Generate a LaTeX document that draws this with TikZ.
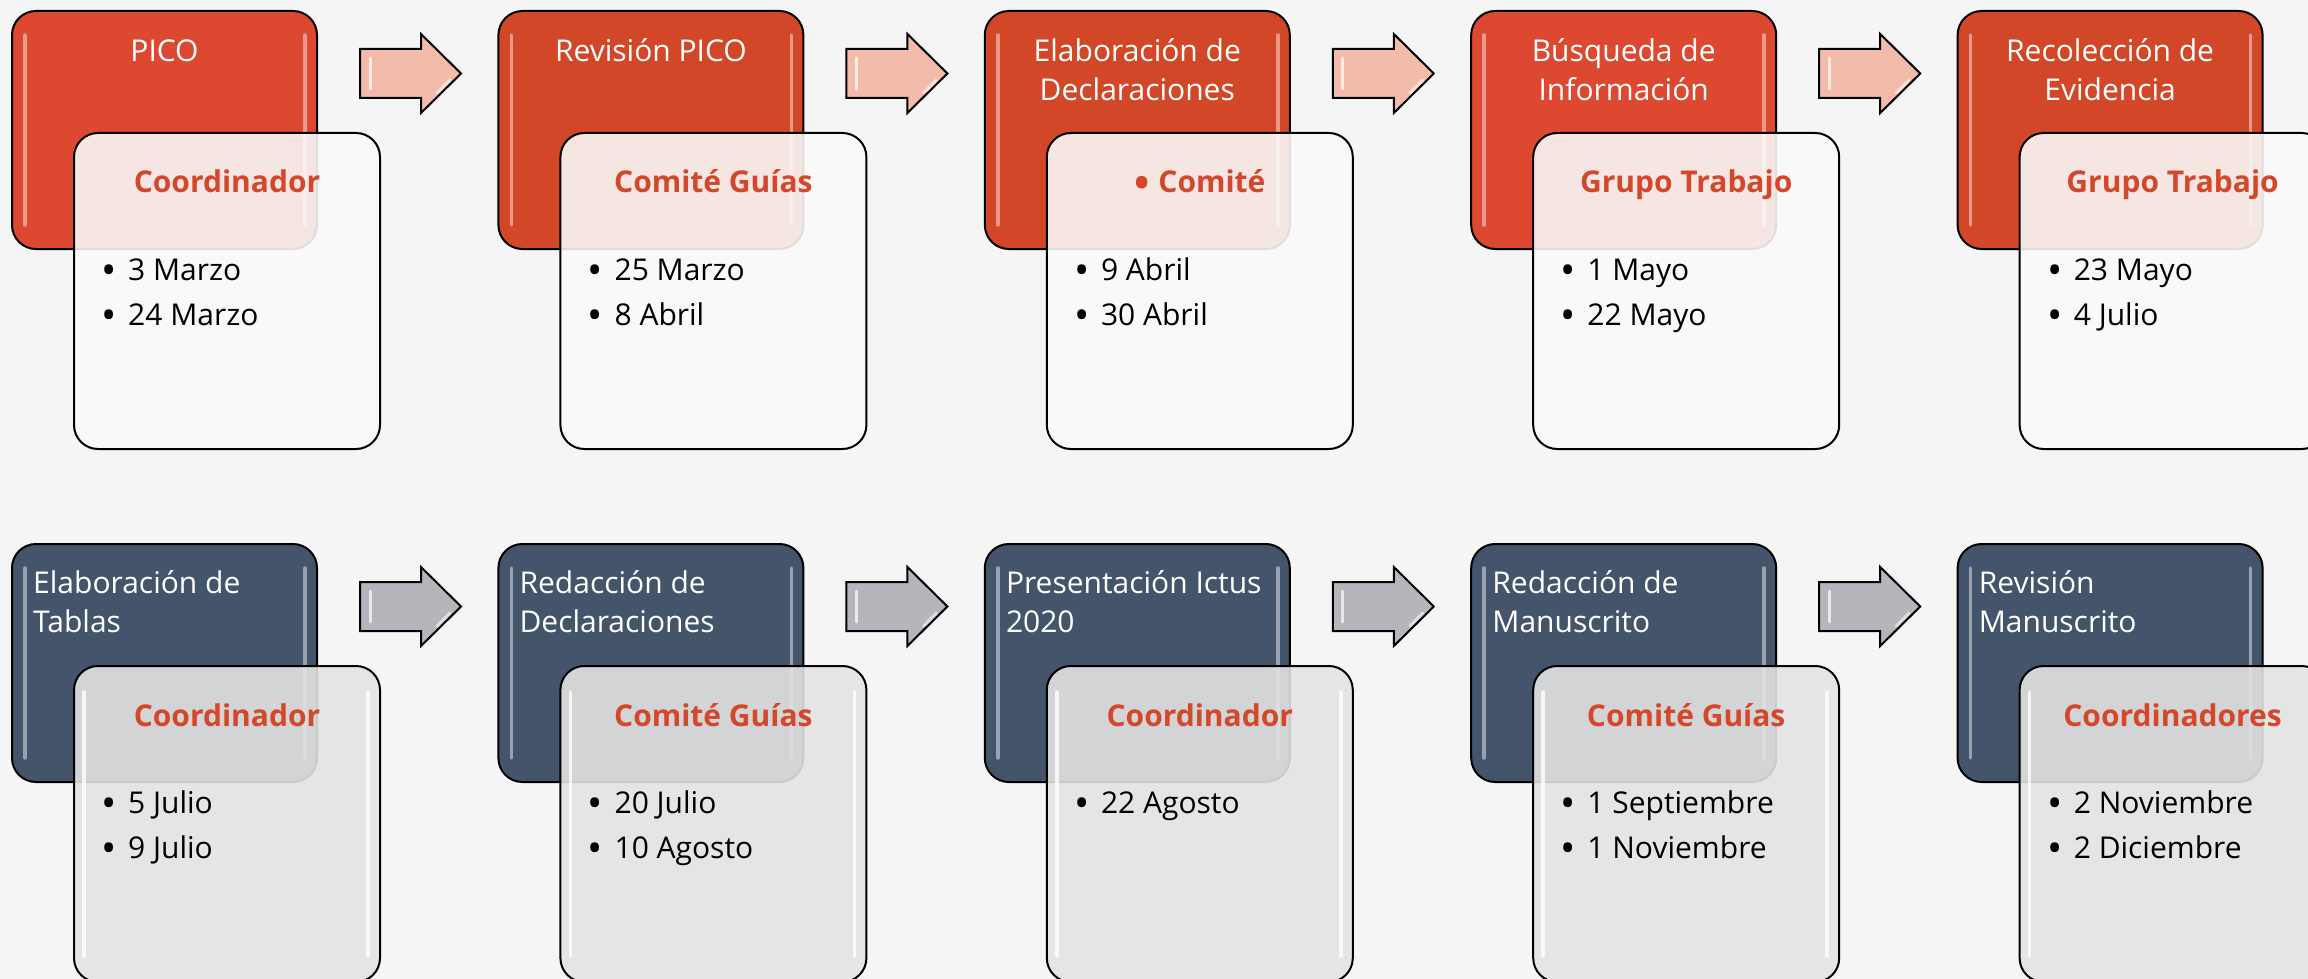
\documentclass[tikz,border=0pt]{standalone}
\usepackage{fontspec}
\setmainfont{Open Sans}
\usetikzlibrary{calc}
\definecolor{bgc}{HTML}{F5F5F5}
\definecolor{redA}{HTML}{DC4930}
\definecolor{redB}{HTML}{D24727}
\definecolor{bluec}{HTML}{44546A}
\definecolor{headc}{HTML}{D4472A}
\definecolor{salmon}{HTML}{F3BCAA}
\definecolor{greyarr}{HTML}{B4B6BB}
\definecolor{paleA}{HTML}{FAFAFA}
\definecolor{paleB}{HTML}{E4E4E4}
\tikzset{
  tbox/.style={draw=black, line width=2pt, rounded corners=24pt, minimum width=305pt,
    minimum height=238pt, anchor=north west, inner sep=0pt, outer sep=0pt},
  dbox/.style={draw=black, line width=2pt, rounded corners=24pt, minimum width=306pt,
    minimum height=316pt, anchor=north west, inner sep=0pt, outer sep=0pt, fill opacity=0.89},
  titletext/.style={text=white, inner sep=0pt, font={\fontsize{30pt}{39pt}\selectfont}},
  titlec/.style={anchor=base},
  titlel/.style={anchor=base west},
  headtext/.style={text=headc, inner sep=0pt, anchor=base, font={\fontsize{30pt}{36pt}\selectfont\bfseries}},
  listtext/.style={text=black, inner sep=0pt, anchor=base west, font={\fontsize{30pt}{45pt}\selectfont}},
  arrowshape/.style={draw=black, line width=2pt, line join=miter},
  gloss/.style={draw=white, line width=3.5pt, line cap=round, draw opacity=0.45},
  arrgloss/.style={draw=white, line width=3pt, line cap=round, draw opacity=0.7},
}
\newcommand{\bigdot}{\raisebox{-4.5pt}{\scalebox{1.35}{\textbullet}}}
\newcommand{\blt}{\makebox[38pt][c]{\bigdot}}
% multi-line text whose baseline is that of its first line
\newcommand{\mlines}[2]{\begin{tabular}[t]{@{}#1@{}}#2\end{tabular}}
% #1 id, #2 x, #3 y, #4 fill colour of top box, #5 c/l, #6 title, #7 header, #8 list, #9 pale fill
\newcommand{\stage}[9]{%
  \node[tbox, fill=#4] (t#1) at (#2,#3) {};
  \draw[gloss] ($(t#1.north west)+(13,24)$) -- ($(t#1.south west)+(13,-24)$);
  \draw[gloss] ($(t#1.north east)+(-12,24)$) -- ($(t#1.south east)+(-12,-24)$);
  \coordinate (tc#1) at ($(t#1.north)+(0,51)$);
  \coordinate (tl#1) at ($(t#1.north west)+(21,49)$);
  \node[titletext, title#5] (tt#1) at (t#5#1) {\mlines{#5}{#6}};
  \node[dbox, fill=#9] (d#1) at ($(t#1.north west)+(62,122)$) {};
  \node[headtext] (h#1) at ($(d#1.north)+(0,60)$) {#7};
  \node[listtext] (l#1) at ($(d#1.north west)+(16,147)$) {\mlines{l}{#8}};
}
% #1 id of box it follows, #2 fill
\newcommand{\blockarrow}[2]{%
  \draw[arrowshape, fill=#2, shift={(t#1.north east)}]
    (43,38) -- (104,38) -- (104,23) -- (144,62.5) -- (104,102) -- (104,87) -- (43,87) -- cycle;
  \draw[arrgloss, shift={(t#1.north east)}] (53,47) -- (53,78);
  \draw[arrgloss, shift={(t#1.north east)}, draw opacity=0.55] (120,82) -- (133,69);
}
\begin{document}
\begin{tikzpicture}[x=1pt, y=-1pt]
\useasboundingbox (0,0) rectangle (2308,979);
\fill[bgc] (0,0) rectangle (2308,979);
\clip (0,0) rectangle (2308,979);
% row 1
\stage{1}{12}{11}{redA}{c}{PICO}{Coordinador}{\blt 3 Marzo\\\blt 24 Marzo}{paleA}
\stage{2}{498.4}{11}{redB}{c}{Revisión PICO}{Comité Guías}{\blt 25 Marzo\\\blt 8 Abril}{paleA}
\stage{3}{984.8}{11}{redB}{c}{Elaboración de\\Declaraciones}{\bigdot\hspace{9pt}Comité}{\blt 9 Abril\\\blt 30 Abril}{paleA}
\stage{4}{1471.2}{11}{redA}{c}{Búsqueda de\\Información}{Grupo Trabajo}{\blt 1 Mayo\\\blt 22 Mayo}{paleA}
\stage{5}{1957.6}{11}{redB}{c}{Recolección de\\Evidencia}{Grupo Trabajo}{\blt 23 Mayo\\\blt 4 Julio}{paleA}
\blockarrow{1}{salmon}
\blockarrow{2}{salmon}
\blockarrow{3}{salmon}
\blockarrow{4}{salmon}
% row 2
\stage{6}{12}{544}{bluec}{l}{Elaboración de\\Tablas}{Coordinador}{\blt 5 Julio\\\blt 9 Julio}{paleB}
\stage{7}{498.4}{544}{bluec}{l}{Redacción de\\Declaraciones}{Comité Guías}{\blt 20 Julio\\\blt 10 Agosto}{paleB}
\stage{8}{984.8}{544}{bluec}{l}{Presentación Ictus\\2020}{Coordinador}{\blt 22 Agosto}{paleB}
\stage{9}{1471.2}{544}{bluec}{l}{Redacción de\\Manuscrito}{Comité Guías}{\blt 1 Septiembre\\\blt 1 Noviembre}{paleB}
\stage{10}{1957.6}{544}{bluec}{l}{Revisión\\Manuscrito}{Coordinadores}{\blt 2 Noviembre\\\blt 2 Diciembre}{paleB}
\foreach \i in {6,7,8,9} {
  \draw[gloss, draw opacity=0.8] ($(d\i.north west)+(10,26)$) -- ($(d\i.south west)+(10,-26)$);
  \draw[gloss, draw opacity=0.8] ($(d\i.north east)+(-12,26)$) -- ($(d\i.south east)+(-12,-26)$);
}
\draw[gloss, draw opacity=0.8] ($(d10.north west)+(10,26)$) -- ($(d10.south west)+(10,-26)$);
\blockarrow{6}{greyarr}
\blockarrow{7}{greyarr}
\blockarrow{8}{greyarr}
\blockarrow{9}{greyarr}
\end{tikzpicture}
\end{document}
